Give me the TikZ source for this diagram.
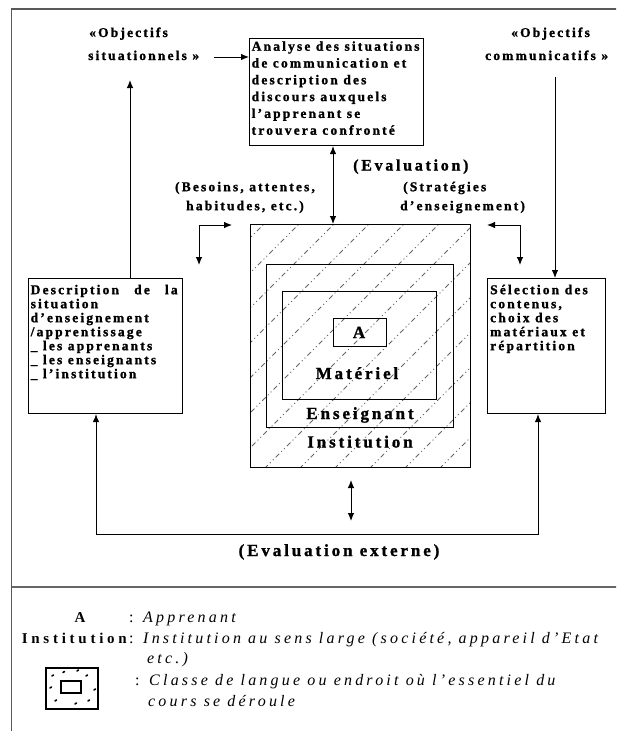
\documentclass[tikz,border=0pt]{standalone}
\usepackage{fontspec}
\setmainfont{Liberation Serif}
\newfontfamily\fa[LetterSpace=16,FakeBold=1.3]{Liberation Serif}
\newfontfamily\fb[LetterSpace=17,FakeBold=1.3]{Liberation Serif}
\newfontfamily\fc[LetterSpace=20]{Liberation Serif}
\newfontfamily\fd[LetterSpace=25]{Liberation Serif}
\setlength{\lineskiplimit}{-10pt}
\usetikzlibrary{arrows.meta}
\tikzset{
  box/.style={draw=black, line width=1.1pt, inner sep=0pt, anchor=north west},
  tA/.style={font=\fa\bfseries\fontsize{13.5pt}{16.8pt}\selectfont, inner sep=0pt, align=left},
  tB/.style={font=\fa\bfseries\fontsize{13.5pt}{14pt}\selectfont, inner sep=0pt, align=left},
  tC/.style={font=\fa\bfseries\fontsize{13.5pt}{19pt}\selectfont, inner sep=0pt},
  tL/.style={font=\fb\bfseries\fontsize{16pt}{20pt}\selectfont, inner sep=0pt},
  tM/.style={font=\fb\bfseries\fontsize{17pt}{20pt}\selectfont, inner sep=0pt},
  tG/.style={font=\fc\fontsize{16pt}{20pt}\selectfont, inner sep=0pt},
  tGb/.style={font=\fd\bfseries\fontsize{15pt}{20pt}\selectfont, inner sep=0pt},
  arr/.style={-{Latex[length=8pt,width=6.5pt]}, line width=0.9pt},
  darr/.style={{Latex[length=8pt,width=6.5pt]}-{Latex[length=8pt,width=6.5pt]}, line width=0.9pt},
  frame/.style={draw=black!65, line width=1.6pt},
  hatch/.style={draw=black!60, line width=0.9pt, dash pattern=on 5pt off 3pt on 1pt off 3pt on 1pt off 3pt},
  dot/.style={line width=1.6pt, line cap=round}
}
\begin{document}
\begin{tikzpicture}[x=1pt,y=-1pt]
\useasboundingbox (0,0) rectangle (616,731);
\begin{scope}
\clip (0,0) rectangle (616,731);
% outer frame and divider
\draw[frame] (11.5,760) -- (11.5,9) -- (660,9);
\draw[draw=black!60, line width=2pt] (11.5,587) -- (660,587);

% top labels
\node[tC, anchor=base west] (os1) at (89,37) {«Objectifs};
\node[tC, anchor=base west] (os2) at (88,60) {situationnels »};
\node[tC, anchor=base west] (oc1) at (511,37) {«Objectifs};
\node[tC, anchor=base west] (oc2) at (485,60) {communicatifs »};

% analyse box
\node[box, minimum width=174pt, minimum height=107pt] (analyse) at (249,38) {};
\node[tA, anchor=north west] (antext) at (251.5,40.5) {\rule{0pt}{10pt}Analyse des situations\\de communication et\\description des\\discours auxquels\\l’apprenant se\\trouvera confronté};

% side boxes
\node[box, minimum width=154pt, minimum height=135pt] (desc) at (28,278) {};
\node[tB, anchor=north west] (desctext) at (30.5,284) {\rule{0pt}{10pt}\makebox[147pt][s]{Description de la}\\situation\\d’enseignement\\/apprentissage\\\_ les apprenants\\\_ les enseignants\\\_ l’institution};
\node[box, minimum width=118pt, minimum height=135pt] (sel) at (487,278) {};
\node[tB, anchor=north west] (seltext) at (490,284) {\rule{0pt}{10pt}Sélection des\\contenus,\\choix des\\matériaux et\\répartition};

% central nested square with hatching
\begin{scope}
\clip (250,224) rectangle (470,467);
\foreach \c in {488,523,...,945} \draw[hatch] ({\c-480},480) -- ({\c-210},210);
\end{scope}
\node[box, line width=1.4pt, minimum width=220pt, minimum height=243pt] (sq) at (250,224) {};
\node[box, minimum width=187pt, minimum height=163pt] (r2) at (266,264) {};
\node[box, minimum width=154pt, minimum height=108pt] (r3) at (282,291) {};
\node[box, minimum width=53pt, minimum height=28pt] (ra) at (333,318) {};
\node[tM, anchor=base] (tA1) at (359,338) {A};
\node[tM, anchor=base] (tMat) at (357,379) {Matériel};
\node[tM, anchor=base] (tEns) at (360,419) {Enseignant};
\node[tM, anchor=base] (tInst) at (360,447.5) {Institution};

% labels around
\node[tL, anchor=base west] (eval) at (353,170.5) {(Evaluation)};
\node[tC, anchor=north, align=center] (besoins) at (245,181) {\rule{0pt}{10pt}(Besoins, attentes,\\habitudes, etc.)};
\node[tC, anchor=north west, align=left] (strat) at (400,181) {\rule{0pt}{10pt}\hspace*{3pt}(Stratégies\\d’enseignement)};
\node[tM, anchor=base] (evalext) at (339,556) {(Evaluation externe)};

% connectors
\coordinate (c1) at (214,57);
\draw[arr] (c1) -- (c1 -| analyse.west);
\coordinate (lt) at (130,80);
\draw[arr] (lt |- desc.north) -- (lt);
\coordinate (rt) at (555,77);
\draw[arr] (rt) -- (rt |- sel.north);
\coordinate (ev) at (333,0);
\draw[darr] (ev |- analyse.south) -- (ev |- sq.north);
\coordinate (e1a) at (232,225);
\coordinate (e1b) at (199,225);
\coordinate (e1c) at (199,265);
\draw[darr] (e1a) -- (e1b) -- (e1c);
\coordinate (e2a) at (487,225);
\coordinate (e2b) at (520,225);
\coordinate (e2c) at (520,265);
\draw[darr] (e2a) -- (e2b) -- (e2c);
\coordinate (bl) at (96,534);
\coordinate (br) at (538,534);
\draw[darr] (bl |- desc.south) -- (bl) -- (br) -- (br |- sel.south);
\coordinate (m1) at (351,480);
\coordinate (m2) at (351,521);
\draw[darr] (m1) -- (m2);

% legend
\node[tGb, anchor=base] (lA) at (80,622) {A};
\node[tG, anchor=base west] (lAd) at (129,622) {: \textit{Apprenant}};
\node[tGb, anchor=base east] (lI) at (127,643) {Institution};
\node[tG, anchor=base west] (lId) at (129,643) {: \textit{Institution au sens large (société, appareil d’Etat}};
\node[tG, anchor=base west] (lId2) at (147,663) {\textit{etc.)}};
\node[box, line width=2pt, minimum width=52pt, minimum height=41pt] (icon) at (45,667) {};
\node[box, line width=1.8pt, minimum width=20pt, minimum height=12pt] (iconin) at (60,680) {};
\foreach \p in {(52,676),(63,672.5),(77,671),(86,676),(94,690),(55,701),(75,704),(88,701),(50,688)}
  \draw[dot] \p -- ++(1.5,-1);
\node[tG, anchor=base west] (lC) at (135,685) {: \textit{Classe de langue ou endroit où l’essentiel du}};
\node[tG, anchor=base west] (lC2) at (148,706) {\textit{cours se déroule}};
\end{scope}
\end{tikzpicture}
\end{document}
